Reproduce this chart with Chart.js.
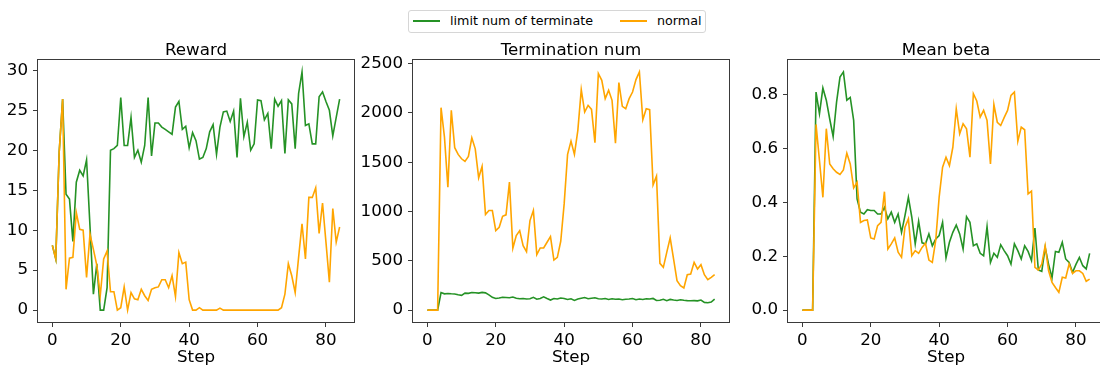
<!DOCTYPE html>
<html><head><meta charset="utf-8">
<script src="https://cdn.jsdelivr.net/npm/chart.js@4.4.1/dist/chart.umd.min.js"></script>
<style>
html,body{margin:0;padding:0;background:#fff;width:1100px;height:367px;overflow:hidden;position:relative;font-family:'DejaVu Sans',sans-serif;}
canvas{position:absolute;top:0;}
#legend{position:absolute;left:408px;top:10px;width:298px;height:23px;border:1px solid #d6d6d6;border-radius:3px;box-sizing:border-box;font-size:12.7px;color:#000;background:#fff;z-index:5;}
#legend .ln{position:absolute;height:2px;top:9px;width:27px;}
#legend .tx{position:absolute;top:2px;line-height:16px;white-space:nowrap;}
</style></head><body>
<canvas id="c1" width="367" height="367" style="left:0"></canvas>
<canvas id="c2" width="394" height="367" style="left:340px"></canvas>
<canvas id="c3" width="390" height="367" style="left:720px"></canvas>
<div id="legend">
  <div class="ln" style="left:4px;background:#259225"></div><div class="tx" style="left:41px">limit num of terminate</div>
  <div class="ln" style="left:211px;background:#ffa500"></div><div class="tx" style="left:248px">normal</div>
</div>
<script>
const steps = [0,1,2,3,4,5,6,7,8,9,10,11,12,13,14,15,16,17,18,19,20,21,22,23,24,25,26,27,28,29,30,31,32,33,34,35,36,37,38,39,40,41,42,43,44,45,46,47,48,49,50,51,52,53,54,55,56,57,58,59,60,61,62,63,64,65,66,67,68,69,70,71,72,73,74,75,76,77,78,79,80,81,82,83,84];

const rewardLimit = [8.1,6.4,19.8,26.4,14.5,13.9,8.6,16.0,17.5,16.8,18.8,10.5,2.0,5.8,0,0,2.8,20.0,20.2,20.6,26.6,20.6,20.6,24.1,19.1,20.0,18.5,20.6,26.6,19.3,23.4,23.4,22.9,22.6,22.3,22.0,25.4,26.1,22.6,23.0,20.3,22.2,21.2,18.9,19.1,20.2,22.3,23.2,19.5,22.9,24.8,24.9,23.6,24.9,19.1,26.5,21.7,23.5,20.0,20.8,26.3,26.2,23.8,24.6,20.2,26.4,25.5,26.2,19.6,26.3,25.8,20.2,27.1,29.8,23.1,23.3,20.8,20.8,26.7,27.3,26.1,25.0,21.8,24.1,26.4];
const rewardNormal = [8.1,6.4,19.8,26.4,2.6,6.5,6.6,12.2,10.1,10.0,4.1,9.5,7.6,5.6,1.8,6.4,7.4,2.3,2.3,0,0.3,2.9,0,2.2,1.4,1.3,2.6,1.8,1.2,2.6,2.8,2.9,3.8,3.8,2.8,4.3,1.7,7.2,5.8,6.0,1.3,0,0,0.3,0,0,0,0,0,0.25,0,0,0,0,0,0,0,0,0,0,0,0,0,0,0,0,0,0.3,2.0,5.8,4.3,2.2,6.6,10.8,6.4,14.1,14.1,15.3,9.6,13.4,8.5,3.5,12.7,8.5,10.4];

const termLimit = [0,0,0,0,178,165,168,165,163,155,150,172,170,178,176,172,180,175,155,130,118,122,130,128,125,132,120,115,118,112,115,130,110,118,135,118,102,118,112,122,118,108,115,98,112,120,128,115,120,125,115,112,118,108,115,110,112,105,110,112,118,105,112,108,115,112,118,98,100,110,95,108,102,98,105,100,96,95,96,94,102,78,75,82,112];
const termNormal = [0,0,0,0,2053,1755,1247,2026,1647,1579,1535,1508,1558,1748,1636,1342,1457,969,1010,1010,806,840,952,966,1298,627,756,806,654,593,908,1010,562,630,630,688,745,508,535,698,1077,1579,1714,1579,1823,2236,2009,2077,2036,1697,2399,2331,2145,2229,2128,1694,2307,2067,2043,2145,2212,2338,2416,1931,2043,2033,1270,1359,474,434,586,732,518,298,247,224,359,366,484,417,461,359,308,332,359];

const betaLimit = [0,0,0,0,0.81,0.73,0.825,0.78,0.71,0.645,0.773,0.866,0.885,0.78,0.79,0.705,0.413,0.364,0.357,0.373,0.37,0.37,0.357,0.357,0.382,0.339,0.364,0.326,0.357,0.289,0.351,0.419,0.345,0.246,0.33,0.25,0.246,0.283,0.239,0.264,0.277,0.326,0.194,0.252,0.289,0.316,0.283,0.227,0.347,0.326,0.239,0.246,0.211,0.202,0.31,0.177,0.211,0.196,0.243,0.221,0.202,0.171,0.246,0.221,0.19,0.239,0.218,0.184,0.305,0.149,0.144,0.233,0.17,0.12,0.218,0.215,0.252,0.19,0.177,0.14,0.17,0.196,0.165,0.153,0.211];
const betaNormal = [0,0,0,0,0.69,0.556,0.419,0.674,0.543,0.525,0.512,0.504,0.521,0.583,0.543,0.454,0.475,0.326,0.333,0.335,0.268,0.264,0.314,0.326,0.44,0.227,0.246,0.268,0.215,0.196,0.308,0.339,0.202,0.221,0.211,0.233,0.248,0.186,0.177,0.26,0.42,0.531,0.568,0.537,0.605,0.748,0.655,0.692,0.674,0.568,0.804,0.777,0.717,0.742,0.705,0.543,0.764,0.698,0.686,0.715,0.742,0.798,0.81,0.627,0.68,0.67,0.432,0.442,0.159,0.149,0.171,0.239,0.146,0.103,0.084,0.066,0.122,0.119,0.171,0.136,0.146,0.146,0.136,0.107,0.115];

const xTicks = [0,20,40,60,80];
const rewardTicks = [0,5,10,15,20,25,30];
const termTicks = [0,500,1000,1500,2000,2500];
const betaTicks = [0,0.2,0.4,0.6,0.8];

const seriesNames = ['limit num of terminate','normal'];
const GREEN = '#259225', ORANGE = '#ffa500';
const FONT = 'DejaVu Sans';
const FS = 16.7;

const frame = {
  id: 'frame',
  afterDatasetsDraw(chart) {
    const {ctx, chartArea: a} = chart;
    ctx.save();
    ctx.strokeStyle = '#3a3a3a';
    ctx.lineWidth = 1;
    const l = Math.round(a.left) - 0.5, t = Math.round(a.top) - 0.5, r = Math.round(a.right) + 0.5, b = Math.round(a.bottom) + 0.5;
    ctx.strokeRect(l, t, r - l, b - t);
    ctx.restore();
  },
  afterDraw(chart, args, opts) {
    const {ctx, chartArea: a} = chart;
    ctx.save();
    ctx.fillStyle = '#000';
    ctx.font = FS + 'px "' + FONT + '"';
    ctx.textAlign = 'center';
    ctx.textBaseline = 'alphabetic';
    const cx = (a.left + a.right) / 2;
    ctx.fillText(opts.title, cx, 55);
    ctx.fillText(opts.xlabel, cx, 362);
    ctx.restore();
  }
};

function pts(ys) { return steps.map((s, i) => ({x: s, y: ys[i]})); }

function makeChart(id, title, limitData, normalData, yTicks, yAxisW, rightPad, fmt) {
  const all = limitData.concat(normalData);
  const mn = Math.min(...all), mx = Math.max(...all), rg = mx - mn;
  const xmn = Math.min(...steps), xmx = Math.max(...steps), xr = xmx - xmn;
  return new Chart(document.getElementById(id), {
    type: 'line',
    data: {
      datasets: [
        {label: seriesNames[0], data: pts(limitData), borderColor: GREEN, backgroundColor: GREEN, borderWidth: 1.6, pointRadius: 0, tension: 0, order: 1},
        {label: seriesNames[1], data: pts(normalData), borderColor: ORANGE, backgroundColor: ORANGE, borderWidth: 1.6, pointRadius: 0, tension: 0, order: 0}
      ]
    },
    options: {
      responsive: false,
      animation: false,
      devicePixelRatio: 1,
      layout: {padding: {top: 60, right: rightPad, bottom: 0, left: 0}},
      plugins: {legend: {display: false}, tooltip: {enabled: false}, frame: {title: title, xlabel: 'Step'}},
      scales: {
        x: {
          type: 'linear', min: xmn - 0.05 * xr, max: xmx + 0.05 * xr,
          afterBuildTicks: s => { s.ticks = xTicks.map(v => ({value: v})); },
          afterFit: s => { s.height = 45; },
          grid: {drawOnChartArea: false, drawTicks: true, tickLength: 5, tickColor: '#3a3a3a', tickWidth: 1},
          border: {display: false},
          ticks: {font: {family: FONT, size: FS}, color: '#000', padding: 4, maxRotation: 0, autoSkip: false, callback: v => String(v)}
        },
        y: {
          type: 'linear', min: mn - 0.05 * rg, max: mx + 0.05 * rg,
          afterBuildTicks: s => { s.ticks = yTicks.map(v => ({value: v})); },
          afterFit: s => { s.width = yAxisW; },
          grid: {drawOnChartArea: false, drawTicks: true, tickLength: 5, tickColor: '#3a3a3a', tickWidth: 1},
          border: {display: false},
          ticks: {font: {family: FONT, size: FS}, color: '#000', padding: 5, autoSkip: false, callback: fmt}
        }
      }
    },
    plugins: [frame]
  });
}

makeChart('c1', 'Reward', rewardLimit, rewardNormal, rewardTicks, 38, 13, v => String(v));
makeChart('c2', 'Termination num', termLimit, termNormal, termTicks, 73, 5, v => String(v));
makeChart('c3', 'Mean beta', betaLimit, betaNormal, betaTicks, 68, 6, v => v.toFixed(1));
</script>
</body></html>
